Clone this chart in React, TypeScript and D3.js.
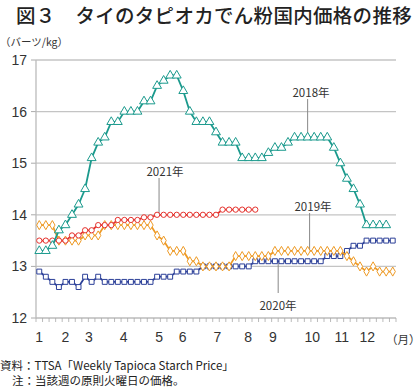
import React from 'react';
import * as d3 from 'd3';

const months = ['1', '2', '3', '4', '5', '6', '7', '8', '9', '10', '11', '12'];
const monthWeek = [0, 4, 7.6, 12.9, 18.3, 21.9, 27.2, 31.9, 35.7, 41.7, 46.2, 50.1];

const price2018 = [
  13.3, 13.3, 13.4, 13.7, 13.8, 14.0, 14.2, 14.5, 15.1, 15.4,
  15.5, 15.8, 15.8, 16.0, 16.0, 16.0, 16.2, 16.2, 16.5, 16.6,
  16.7, 16.7, 16.4, 16.0, 15.8, 15.8, 15.8, 15.6, 15.4, 15.4,
  15.4, 15.1, 15.1, 15.1, 15.1, 15.2, 15.3, 15.3, 15.4, 15.5,
  15.5, 15.5, 15.5, 15.5, 15.5, 15.3, 15.0, 14.7, 14.5, 14.2,
  13.8, 13.8, 13.8, 13.8,
];
const price2019 = [
  13.8, 13.8, 13.8, 13.5, 13.5, 13.5, 13.5, 13.6, 13.6, 13.6,
  13.8, 13.8, 13.8, 13.8, 13.8, 13.8, 13.8, 13.8, 13.6, 13.5,
  13.3, 13.3, 13.3, 13.1, 13.1, 13.0, 13.0, 13.0, 13.0, 13.0,
  13.2, 13.2, 13.2, 13.2, 13.2, 13.2, 13.3, 13.3, 13.3, 13.3,
  13.3, 13.3, 13.3, 13.3, 13.3, 13.3, 13.3, 13.2, 13.1, 13.0,
  12.9, 13.0, 12.9, 12.9, 12.9,
];
const price2020 = [
  12.9, 12.8, 12.7, 12.6, 12.7, 12.7, 12.6, 12.8, 12.7, 12.8,
  12.7, 12.7, 12.7, 12.7, 12.7, 12.7, 12.7, 12.7, 12.8, 12.8,
  12.8, 12.9, 12.9, 12.9, 12.9, 13.0, 13.0, 13.0, 13.0, 13.0,
  13.0, 13.0, 13.0, 13.1, 13.1, 13.1, 13.1, 13.1, 13.1, 13.1,
  13.1, 13.1, 13.1, 13.1, 13.2, 13.2, 13.2, 13.3, 13.4, 13.4,
  13.5, 13.5, 13.5, 13.5, 13.5,
];
const price2021 = [
  13.5, 13.5, 13.5, 13.5, 13.5, 13.6, 13.6, 13.7, 13.7, 13.8,
  13.8, 13.8, 13.9, 13.9, 13.9, 13.9, 13.95, 13.95, 14.0, 14.0,
  14.0, 14.0, 14.0, 14.0, 14.0, 14.0, 14.0, 14.0, 14.1, 14.1,
  14.1, 14.1, 14.1, 14.1,
];
const yTicks = [12, 13, 14, 15, 16, 17];

const JP = '"Noto Sans CJK JP", sans-serif';
const NUM = '"Liberation Sans", Arial, sans-serif';

const W = 420;
const H = 388;
const left = 36;
const right = 396;
const top = 60;
const bottom = 318;
const slots = 55;

const x = d3.scaleLinear().domain([0, slots]).range([left, right]);
const xc = (i: number) => x(i + 0.5);
const y = d3.scaleLinear().domain([12, 17]).range([bottom, top]);

type Series = {
  name: string;
  values: number[];
  color: string;
  symbol: d3.SymbolType;
  size: number;
};

const series: Series[] = [
  { name: '2020', values: price2020, color: '#2b3f98', symbol: d3.symbolSquare, size: 24 },
  { name: '2019', values: price2019, color: '#ee9a25', symbol: d3.symbolDiamond, size: 24 },
  { name: '2021', values: price2021, color: '#e5322d', symbol: d3.symbolCircle, size: 22 },
  { name: '2018', values: price2018, color: '#1b9a8d', symbol: d3.symbolTriangle, size: 34 },
];

const labels = [
  { text: '2018年', week: 41, value: 15.5, lx: 311, ly: 93 },
  { text: '2021年', week: 18.3, value: 14.0, lx: 165, ly: 172 },
  { text: '2019年', week: 41.3, value: 13.3, lx: 313, ly: 207 },
  { text: '2020年', week: 36.5, value: 13.1, lx: 278, ly: 306 },
];

const App: React.FC = () => {
  const line = d3
    .line<number>()
    .x((_, i) => xc(i))
    .y(d => y(d));

  return (
    <svg width={W} height={H} style={{ position: 'absolute', left: 0, top: 0, background: '#fff' }}>
      <text x={16} y={23} fontFamily={JP} fontSize={19.5} fontWeight={500} fill="#222" letterSpacing={0.3}>
        図３　タイのタピオカでん粉国内価格の推移
      </text>
      <text x={0} y={46} fontFamily={JP} fontSize={10.5} fill="#333">
        （バーツ/kg）
      </text>

      {/* grid */}
      {yTicks.map(t => (
        <g key={t}>
          {t > 12 && (
            <line x1={left} x2={right} y1={y(t)} y2={y(t)} stroke="#c4c4c4" strokeWidth={1.3} />
          )}
          <line x1={left - 5} x2={left} y1={y(t)} y2={y(t)} stroke="#aaa" strokeWidth={1} />
          <text x={27} y={y(t)} dy="0.35em" textAnchor="end" fontFamily={NUM} fontSize={14} fill="#333">
            {t}
          </text>
        </g>
      ))}
      <line x1={left} x2={left} y1={top} y2={bottom} stroke="#bbb" strokeWidth={1.3} />
      <line x1={left} x2={right} y1={bottom} y2={bottom} stroke="#bbb" strokeWidth={1.3} />
      {d3.range(slots + 1).map(k => (
        <line key={k} x1={x(k)} x2={x(k)} y1={bottom} y2={bottom + 4} stroke="#aaa" strokeWidth={0.8} />
      ))}
      {months.map((m, i) => (
        <text key={m} x={xc(monthWeek[i])} y={342} textAnchor="middle" fontFamily={NUM} fontSize={14} fill="#333">
          {m}
        </text>
      ))}
      <text x={386} y={344} fontFamily={JP} fontSize={11.5} fill="#333">
        （月）
      </text>

      {/* leader lines */}
      {labels.map(l => (
        <g key={l.text}>
          <line
            x1={xc(l.week)}
            x2={xc(l.week)}
            y1={l.ly < y(l.value) ? l.ly + 6 : y(l.value)}
            y2={l.ly < y(l.value) ? y(l.value) : l.ly - 13}
            stroke="#888"
            strokeWidth={1}
          />
          <text x={l.lx} y={l.ly} dy="0.35em" textAnchor="middle" fontFamily={JP} fontSize={11.5} fill="#333">
            {l.text}
          </text>
        </g>
      ))}

      {series.map(s => (
        <g key={s.name}>
          <path d={line(s.values) ?? ''} fill="none" stroke={s.color} strokeWidth={1.8} />
          {s.values.map((v, i) => (
            <path
              key={i}
              d={d3.symbol().type(s.symbol).size(s.size)() ?? ''}
              transform={`translate(${xc(i)},${y(v)})`}
              fill="#fff"
              stroke={s.color}
              strokeWidth={1}
            />
          ))}
        </g>
      ))}

      <text x={0} y={370} fontFamily={JP} fontSize={11.5} fill="#222">
        資料：TTSA「Weekly Tapioca Starch Price」
      </text>
      <text x={12} y={385} fontFamily={JP} fontSize={11.5} fill="#222">
        注：当該週の原則火曜日の価格。
      </text>
    </svg>
  );
};

export default App;
